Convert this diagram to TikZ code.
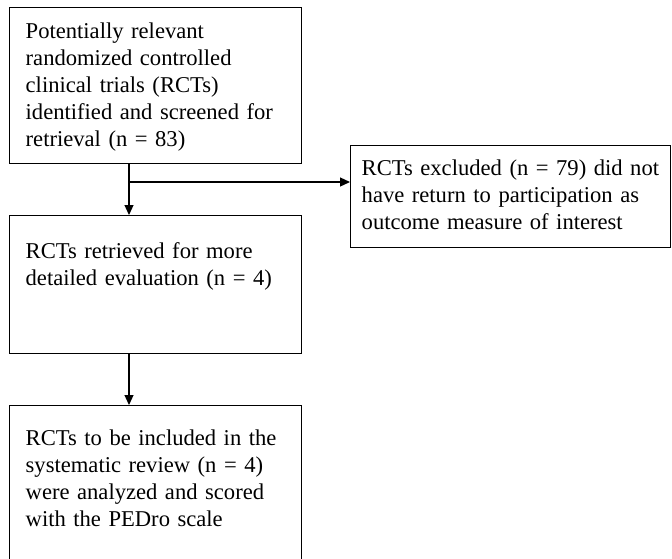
\documentclass[tikz,border=0pt]{standalone}
\usepackage{fontspec}
\setmainfont{Liberation Serif}
\usetikzlibrary{arrows.meta,positioning}

\begin{document}
\begin{tikzpicture}
		[x=1pt, y=1pt,
		block/.style ={rectangle, draw=black, line width=1.4pt, anchor=north west, inner xsep=16pt, inner ysep=0pt,
		text width=260pt, align=left, font=\fontsize{22.6}{27}\selectfont},
		wide/.style = {block, inner xsep=11pt, text width=298pt},
		line/.style ={draw, line width=1.2pt, -{Triangle[length=10pt,width=9pt]}},
		]
		\useasboundingbox (0,0) rectangle (672,-558);

		\draw (9,-7) node[block, text height=31pt, text depth=125pt] (P1) {Potentially relevant\\randomized controlled\\clinical trials (RCTs)\\identified and screened for\\retrieval (n = 83)};
		\draw (350,-145) node[wide, text height=30pt, text depth=72pt] (X1) {RCTs excluded (n = 79) did not\\have return to participation as\\outcome measure of interest};
		\draw (9,-215) node[block, text height=43pt, text depth=95pt] (R1) {RCTs retrieved for more\\detailed evaluation (n = 4)};
		\draw (9,-405) node[block, text height=40pt, text depth=118pt] (I1) {RCTs to be included in the\\systematic review (n = 4)\\were analyzed and scored\\with the PEDro scale};

		\coordinate (J1) at (129,-182);

		\path[line] (J1 |- P1.south) -- (J1 |- R1.north);
		\path[line] (J1) -- (J1 -| X1.west);
		\path[line] (J1 |- R1.south) -- (J1 |- I1.north);

	\end{tikzpicture}
\end{document}
